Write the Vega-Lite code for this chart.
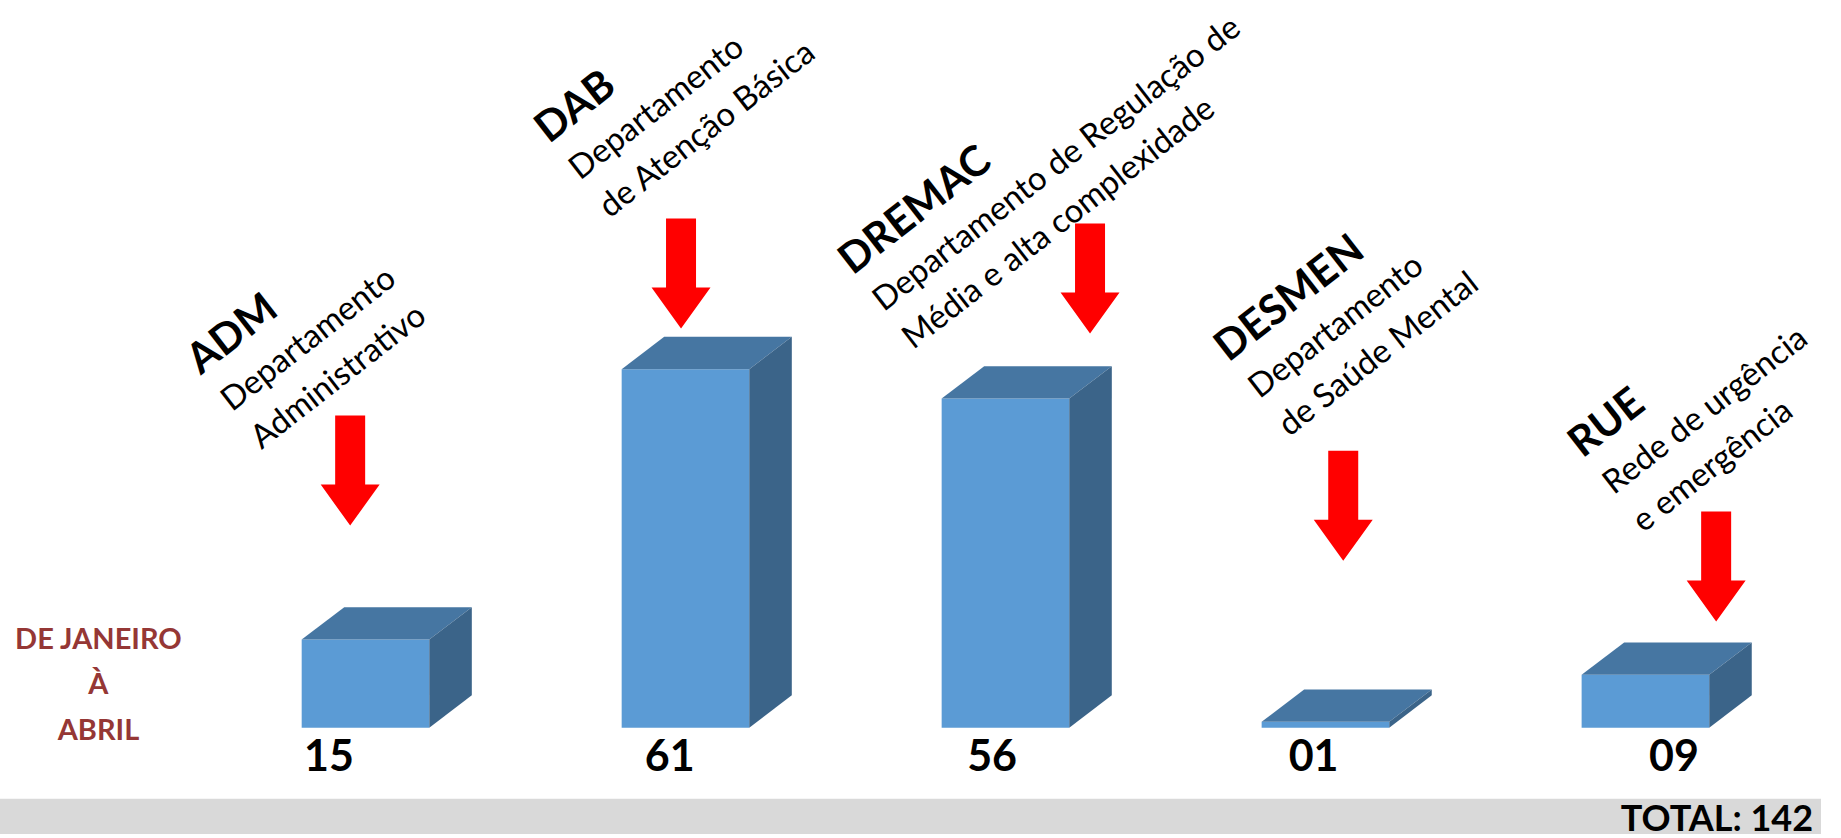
{
  "$schema": "https://vega.github.io/schema/vega-lite/v6.json",
  "autosize": {"type": "fit", "contains": "padding"},
  "width": 1841,
  "height": 838,
  "padding": 0,
  "background": "white",
  "config": {"view": {"stroke": null}, "font": "Lato"},
  "datasets": {
    "departamentos": [
      {"sigla": "ADM", "descricao": ["Departamento", "Administrativo"], "valor": 15, "rotulo": "15", "rotulo_x": 0.085, "titulo_x": -0.3153, "titulo_y": 59.9, "seta_x": 0.1515, "seta_y": 43.75},
      {"sigla": "DAB", "descricao": ["Departamento", "de Atenção Básica"], "valor": 61, "rotulo": "61", "rotulo_x": 1.1499, "titulo_x": 0.7728, "titulo_y": 99.25, "seta_x": 1.1855, "seta_y": 77.25},
      {"sigla": "DREMAC", "descricao": ["Departamento de Regulação de", "Média e alta complexidade"], "valor": 56, "rotulo": "56", "rotulo_x": 2.1577, "titulo_x": 1.7218, "titulo_y": 76.9, "seta_x": 2.4637, "seta_y": 76.42},
      {"sigla": "DESMEN", "descricao": ["Departamento", "de Saúde Mental"], "valor": 1, "rotulo": "01", "rotulo_x": 3.1623, "titulo_x": 2.8964, "titulo_y": 62.08, "seta_x": 3.255, "seta_y": 37.75},
      {"sigla": "RUE", "descricao": ["Rede de urgência", "e emergência"], "valor": 9, "rotulo": "09", "rotulo_x": 4.2885, "titulo_x": 4.0031, "titulo_y": 45.75, "seta_x": 4.4204, "seta_y": 27.42}
    ],
    "periodo": [{"texto": ["DE JANEIRO", "À", "ABRIL"]}],
    "total": [{"texto": "TOTAL: 142"}]
  },
  "data": {"name": "departamentos"},
  "transform": [
    {"window": [{"op": "row_number", "as": "n"}]},
    {"calculate": "datum.n - 1", "as": "i"},
    {"calculate": "datum.i + 0.39876", "as": "i_dir"}
  ],
  "layer": [
    {
      "data": {"name": "total"},
      "mark": {"type": "rect", "color": "#D9D9D9"},
      "encoding": {
        "x": {"datum": -0.94281, "type": "quantitative", "scale": {"domain": [-0.94281, 4.74807], "nice": false, "zero": false}, "axis": null},
        "x2": {"datum": 4.74807},
        "y": {"datum": -18.083, "type": "quantitative", "scale": {"domain": [-18.083, 121.583], "nice": false, "zero": false}, "axis": null},
        "y2": {"datum": -12.083}
      }
    },
    {
      "data": {"name": "total"},
      "mark": {"type": "text", "align": "right", "baseline": "alphabetic", "fontWeight": "bold", "fontSize": 36, "color": "#000000"},
      "encoding": {
        "x": {"datum": 4.7233, "type": "quantitative", "scale": {"domain": [-0.94281, 4.74807], "nice": false, "zero": false}, "axis": null},
        "y": {"datum": -17.583, "type": "quantitative", "scale": {"domain": [-18.083, 121.583], "nice": false, "zero": false}, "axis": null},
        "text": {"field": "texto", "type": "nominal"}
      }
    },
    {
      "data": {"name": "periodo"},
      "mark": {"type": "text", "align": "center", "baseline": "alphabetic", "fontWeight": "bold", "fontSize": 29, "lineHeight": 45.5, "color": "#953735"},
      "encoding": {
        "x": {"datum": -0.6352, "type": "quantitative", "scale": {"domain": [-0.94281, 4.74807], "nice": false, "zero": false}, "axis": null},
        "y": {"datum": 13.4167, "type": "quantitative", "scale": {"domain": [-18.083, 121.583], "nice": false, "zero": false}, "axis": null},
        "text": {"field": "texto", "type": "nominal"}
      }
    },
    {
      "mark": {"type": "rect", "color": "#5B9BD5"},
      "encoding": {
        "x": {"field": "i", "type": "quantitative", "scale": {"domain": [-0.94281, 4.74807], "nice": false, "zero": false}, "axis": null},
        "x2": {"field": "i_dir"},
        "y": {"field": "valor", "type": "quantitative", "scale": {"domain": [-18.083, 121.583], "nice": false, "zero": false}, "axis": null},
        "y2": {"datum": 0}
      }
    },
    {
      "transform": [
        {"calculate": "[0, 1]", "as": "k"},
        {"flatten": ["k"]},
        {"calculate": "datum.i + 0.13292 * datum.k", "as": "xa"},
        {"calculate": "datum.i_dir + 0.13292 * datum.k", "as": "xb"},
        {"calculate": "datum.valor + 5.5 * datum.k", "as": "yt"}
      ],
      "mark": {"type": "area", "orient": "horizontal", "color": "#4676A2", "opacity": 1},
      "encoding": {
        "y": {"field": "yt", "type": "quantitative", "scale": {"domain": [-18.083, 121.583], "nice": false, "zero": false}, "axis": null},
        "x": {"field": "xa", "type": "quantitative", "stack": null, "scale": {"domain": [-0.94281, 4.74807], "nice": false, "zero": false}, "axis": null},
        "x2": {"field": "xb"},
        "detail": {"field": "sigla", "type": "nominal"}
      }
    },
    {
      "transform": [
        {"calculate": "[0, 1]", "as": "k"},
        {"flatten": ["k"]},
        {"calculate": "datum.i_dir + 0.13292 * datum.k", "as": "xs"},
        {"calculate": "5.5 * datum.k", "as": "y0"},
        {"calculate": "datum.valor + 5.5 * datum.k", "as": "y1"}
      ],
      "mark": {"type": "area", "orient": "vertical", "color": "#3B6489", "opacity": 1},
      "encoding": {
        "x": {"field": "xs", "type": "quantitative", "scale": {"domain": [-0.94281, 4.74807], "nice": false, "zero": false}, "axis": null},
        "y": {"field": "y0", "type": "quantitative", "stack": null, "scale": {"domain": [-18.083, 121.583], "nice": false, "zero": false}, "axis": null},
        "y2": {"field": "y1"},
        "detail": {"field": "sigla", "type": "nominal"}
      }
    },
    {
      "mark": {"type": "point", "shape": "M -0.2727 -1 L 0.2727 -1 L 0.2727 0.2545 L 0.536 0.2545 L 0 1 L -0.536 0.2545 L -0.2727 0.2545 Z", "size": 12100, "filled": true, "color": "#FF0000", "opacity": 1, "strokeWidth": 0},
      "encoding": {
        "x": {"field": "seta_x", "type": "quantitative", "scale": {"domain": [-0.94281, 4.74807], "nice": false, "zero": false}, "axis": null},
        "y": {"field": "seta_y", "type": "quantitative", "scale": {"domain": [-18.083, 121.583], "nice": false, "zero": false}, "axis": null}
      }
    },
    {
      "mark": {"type": "text", "align": "left", "baseline": "alphabetic", "angle": -38, "fontWeight": "bold", "fontSize": 42, "color": "#000000"},
      "encoding": {
        "x": {"field": "titulo_x", "type": "quantitative", "scale": {"domain": [-0.94281, 4.74807], "nice": false, "zero": false}, "axis": null},
        "y": {"field": "titulo_y", "type": "quantitative", "scale": {"domain": [-18.083, 121.583], "nice": false, "zero": false}, "axis": null},
        "text": {"field": "sigla", "type": "nominal"}
      }
    },
    {
      "mark": {"type": "text", "align": "left", "baseline": "alphabetic", "angle": -38, "dx": 2, "dy": 48, "lineHeight": 48, "fontSize": 33, "color": "#000000"},
      "encoding": {
        "x": {"field": "titulo_x", "type": "quantitative", "scale": {"domain": [-0.94281, 4.74807], "nice": false, "zero": false}, "axis": null},
        "y": {"field": "titulo_y", "type": "quantitative", "scale": {"domain": [-18.083, 121.583], "nice": false, "zero": false}, "axis": null},
        "text": {"field": "descricao", "type": "nominal"}
      }
    },
    {
      "mark": {"type": "text", "align": "center", "baseline": "alphabetic", "fontWeight": "bold", "fontSize": 43, "color": "#000000"},
      "encoding": {
        "x": {"field": "rotulo_x", "type": "quantitative", "scale": {"domain": [-0.94281, 4.74807], "nice": false, "zero": false}, "axis": null},
        "y": {"datum": -7.3, "type": "quantitative", "scale": {"domain": [-18.083, 121.583], "nice": false, "zero": false}, "axis": null},
        "text": {"field": "rotulo", "type": "nominal"}
      }
    }
  ]
}
